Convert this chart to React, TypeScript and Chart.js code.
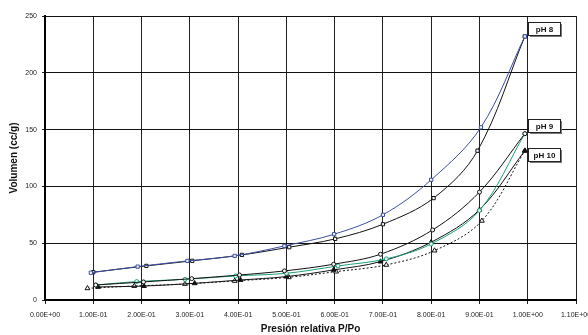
import React, { useEffect, useRef } from 'react';
import { Chart, registerables } from 'chart.js';

Chart.register(...registerables);

// ---- Data ----
const pH8AdsX = [0.095, 0.192, 0.295, 0.393, 0.496, 0.599, 0.7, 0.8, 0.903, 0.994];
const pH8AdsY = [24, 29.4, 34.4, 38.8, 47.6, 57.9, 75, 105.8, 152, 232];

const pH8DesX = [0.1, 0.21, 0.305, 0.408, 0.506, 0.601, 0.7, 0.805, 0.896, 0.994];
const pH8DesY = [24.5, 30, 34.5, 39.7, 46.5, 53.8, 66.7, 89.7, 131.4, 232];

const pH9BlackX = [0.105, 0.204, 0.304, 0.403, 0.496, 0.598, 0.695, 0.803, 0.9, 0.994];
const pH9BlackY = [13.2, 15.9, 18.8, 22, 25.6, 31.5, 40.3, 61.7, 95, 146.4];

const pH9GreenX = [0.105, 0.19, 0.29, 0.395, 0.5, 0.607, 0.707, 0.8, 0.9, 0.994];
const pH9GreenY = [13.2, 16.2, 18.2, 21.2, 23.5, 30, 36.2, 49.4, 78.8, 146.4];

const pH10SolidX = [0.11, 0.205, 0.31, 0.405, 0.5, 0.598, 0.695, 0.8, 0.9, 0.994];
const pH10SolidY = [11.5, 12.3, 14.7, 17.6, 20.6, 26.5, 33.8, 50.9, 79.4, 131.4];

const pH10DotX = [0.088, 0.185, 0.29, 0.393, 0.505, 0.603, 0.707, 0.807, 0.905, 0.994];
const pH10DotY = [10.3, 12.3, 14.1, 16.8, 20, 25, 30.9, 43.5, 69.7, 131.4];

const xTickLabels = [
  '0.00E+00', '1.00E-01', '2.00E-01', '3.00E-01', '4.00E-01', '5.00E-01',
  '6.00E-01', '7.00E-01', '8.00E-01', '9.00E-01', '1.00E+00', '1.10E+00',
];

const boxTexts = ['pH 8', 'pH 9', 'pH 10'];
const boxYValues = [239, 153.4, 128.2];
const boxXValue = 1.0;

const xTitle = 'Presión relativa P/Po';
const yTitle = 'Volumen (cc/g)';

const FONT = "'Liberation Sans', Arial, Helvetica, sans-serif";

const toPts = (xs: number[], ys: number[]) => xs.map((x, i) => ({ x, y: ys[i] }));

const boxPlugin = {
  id: 'phBoxes',
  afterDatasetsDraw(chart: any) {
    const { ctx, scales } = chart;
    const xs = scales.x;
    const ys = scales.y;
    ctx.save();
    boxTexts.forEach((t, i) => {
      const left = Math.round(xs.getPixelForValue(boxXValue)) + 0.5;
      const cy = ys.getPixelForValue(boxYValues[i]);
      const w = 32;
      const h = 13;
      const top = Math.round(cy - h / 2) + 0.5;
      // shadow
      ctx.fillStyle = '#7a7a7a';
      ctx.fillRect(left + 1.5, top + 1.5, w, h);
      ctx.fillStyle = '#ffffff';
      ctx.fillRect(left, top, w, h);
      ctx.strokeStyle = '#222';
      ctx.lineWidth = 1;
      ctx.strokeRect(left, top, w, h);
      ctx.fillStyle = '#111';
      ctx.font = `bold 8px ${FONT}`;
      ctx.textAlign = 'center';
      ctx.textBaseline = 'middle';
      ctx.fillText(t, left + w / 2, top + h / 2 + 0.5);
    });
    ctx.restore();
  },
};

export default function App() {
  const ref = useRef<HTMLCanvasElement | null>(null);

  useEffect(() => {
    if (!ref.current) return;
    const common = {
      showLine: true,
      borderWidth: 1,
      tension: 0.35,
      pointBorderWidth: 1,
      pointRadius: 2.3,
      pointHoverRadius: 2.3,
      fill: false,
    };
    const chart = new Chart(ref.current, {
      type: 'line',
      data: {
        datasets: [
          {
            ...common,
            label: 'pH 8 ads',
            data: toPts(pH8AdsX, pH8AdsY),
            borderColor: '#3b4fa3',
            pointStyle: 'rect',
            pointBorderColor: '#3b4fa3',
            pointBackgroundColor: 'rgba(255,255,255,0.9)',
          },
          {
            ...common,
            label: 'pH 8 des',
            data: toPts(pH8DesX, pH8DesY),
            borderColor: '#111',
            pointStyle: 'rect',
            pointBorderColor: '#111',
            pointBackgroundColor: 'rgba(255,255,255,0.9)',
          },
          {
            ...common,
            label: 'pH 9 black',
            data: toPts(pH9BlackX, pH9BlackY),
            borderColor: '#111',
            pointStyle: 'circle',
            pointRadius: 2,
            pointBorderColor: '#111',
            pointBackgroundColor: 'rgba(255,255,255,0.9)',
          },
          {
            ...common,
            label: 'pH 9 green',
            data: toPts(pH9GreenX, pH9GreenY),
            borderColor: '#1aa07c',
            pointStyle: 'circle',
            pointRadius: 2,
            pointBorderColor: '#1aa07c',
            pointBackgroundColor: 'rgba(255,255,255,0.9)',
          },
          {
            ...common,
            label: 'pH 10 solid',
            data: toPts(pH10SolidX, pH10SolidY),
            borderColor: '#111',
            pointStyle: 'triangle',
            pointRadius: 2.8,
            pointBorderColor: '#111',
            pointBackgroundColor: '#111',
          },
          {
            ...common,
            label: 'pH 10 dotted',
            data: toPts(pH10DotX, pH10DotY),
            borderColor: '#111',
            borderDash: [2, 2],
            pointStyle: 'triangle',
            pointRadius: 2.8,
            pointBorderColor: '#111',
            pointBackgroundColor: '#fff',
          },
        ],
      },
      options: {
        animation: false,
        responsive: false,
        devicePixelRatio: 1,
        layout: { padding: { left: 0, top: 16, right: 12, bottom: 0 } },
        plugins: {
          legend: { display: false },
          tooltip: { enabled: false },
          title: { display: false },
        },
        scales: {
          x: {
            type: 'linear',
            min: 0,
            max: 1.1,
            ticks: {
              stepSize: 0.1,
              autoSkip: false,
              maxRotation: 0,
              minRotation: 0,
              padding: 7,
              color: '#222',
              font: { family: FONT, size: 7 },
              callback: (_v: any, i: number) => xTickLabels[i],
            },
            grid: {
              color: '#222',
              lineWidth: 1,
              drawTicks: true,
              tickLength: 4,
              tickColor: '#222',
            },
            border: { display: true, color: '#000', width: 2 },
            title: {
              display: true,
              text: xTitle,
              color: '#111',
              font: { family: FONT, size: 10, weight: 'bold' },
              padding: { top: 0, bottom: 0 },
            },
            afterFit: (s: any) => {
              s.height = 35;
              s.paddingLeft = 0;
              s.paddingRight = 0;
            },
          },
          y: {
            type: 'linear',
            min: 0,
            max: 250,
            ticks: {
              stepSize: 50,
              padding: 5,
              color: '#222',
              font: { family: FONT, size: 7 },
            },
            grid: {
              color: '#111',
              lineWidth: 1,
              drawTicks: true,
              tickLength: 3,
              tickColor: '#222',
            },
            border: { display: true, color: '#000', width: 2 },
            title: {
              display: true,
              text: yTitle,
              color: '#111',
              font: { family: FONT, size: 10, weight: 'bold' },
              padding: { top: 8, bottom: 0 },
            },
            afterFit: (s: any) => {
              s.width = 45;
              s.paddingTop = 0;
              s.paddingBottom = 0;
            },
          },
        },
      },
      plugins: [boxPlugin],
    } as any);
    return () => chart.destroy();
  }, []);

  return (
    <div style={{ position: 'fixed', left: 0, top: 0, width: 588, height: 335, background: '#fff' }}>
      <canvas ref={ref} width={588} height={335} style={{ display: 'block', width: 588, height: 335 }} />
    </div>
  );
}
